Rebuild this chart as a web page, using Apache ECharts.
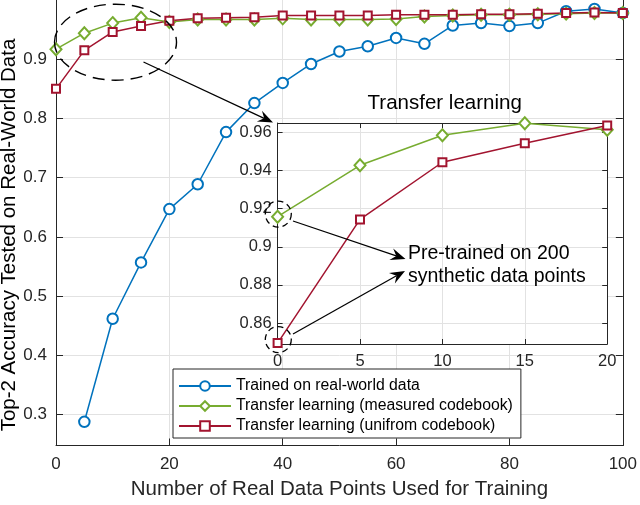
<!DOCTYPE html>
<html>
<head>
<meta charset="utf-8">
<script src="https://cdn.jsdelivr.net/npm/echarts@6/dist/echarts.min.js"></script>
<style>
html, body { margin: 0; padding: 0; background: #fff; }
#chart { width: 640px; height: 505px; }
</style>
</head>
<body>
<div id="chart"></div>
<script>
var pointsUsed = [0, 5, 10, 15, 20, 25, 30, 35, 40, 45, 50, 55, 60, 65, 70, 75, 80, 85, 90, 95, 100];
var trainedReal = [null, 0.288, 0.462, 0.557, 0.647, 0.689, 0.777, 0.826, 0.860, 0.892, 0.913, 0.922, 0.936, 0.926, 0.957, 0.961, 0.956, 0.961, 0.981, 0.985, 0.978];
var transferMeasured = [0.917, 0.944, 0.961, 0.970, 0.963, 0.967, 0.967, 0.967, 0.969, 0.967, 0.967, 0.967, 0.968, 0.972, 0.974, 0.975, 0.975, 0.976, 0.977, 0.978, 0.978];
var transferUniform = [0.850, 0.915, 0.946, 0.956, 0.965, 0.969, 0.970, 0.971, 0.974, 0.974, 0.974, 0.974, 0.975, 0.975, 0.975, 0.976, 0.976, 0.977, 0.978, 0.979, 0.978];

var insetPoints = [0, 5, 10, 15, 20];
var insetMeasured = [0.9158, 0.9428, 0.9586, 0.9649, 0.9614];
var insetUniform = [0.8495, 0.9144, 0.9444, 0.9544, 0.9637];

var mainYTicks = [0.3, 0.4, 0.5, 0.6, 0.7, 0.8, 0.9];
var insetYTicks = [0.86, 0.88, 0.9, 0.92, 0.94, 0.96];

var seriesNames = ['Trained on real-world data', 'Transfer learning (measured codebook)', 'Transfer learning (unifrom codebook)'];
var colors = ['#0072BD', '#77AC30', '#A2142F'];

var font = 'Liberation Sans, Arial, sans-serif';
var axisColor = '#262626';
var gridColor = '#e2e2e2';

function pairs(xs, ys) {
    var out = [];
    for (var i = 0; i < xs.length; i++) {
        if (ys[i] != null) out.push([xs[i], ys[i]]);
    }
    return out;
}

function valueAxis(o) {
    var ticks = o.ticks;
    var ax = {
        type: 'value',
        gridIndex: o.grid,
        position: o.position,
        min: o.min,
        max: o.max,
        z: o.z || 0,
        axisLine: { show: true, onZero: false, lineStyle: { color: axisColor, width: 1 } },
        axisTick: { show: true, inside: true, length: o.tickLen, lineStyle: { color: axisColor } },
        axisLabel: {
            show: !!o.labels,
            margin: o.margin,
            fontSize: o.fontSize,
            fontFamily: font,
            color: axisColor
        },
        splitLine: { show: !!o.split, lineStyle: { color: gridColor, width: 1 } }
    };
    if (o.interval) ax.interval = o.interval;
    if (ticks) {
        ax.axisTick.customValues = ticks;
        ax.axisLabel.customValues = ticks;
    }
    return ax;
}

var myChart = echarts.init(document.getElementById('chart'));

var symbols = ['emptyCircle', 'emptyDiamond', 'emptyRect'];
var symbolSizes = [10.5, [11, 12], 8];
var mainData = [trainedReal, transferMeasured, transferUniform];
var insetData = [null, insetMeasured, insetUniform];

var series = [];
for (var i = 0; i < 3; i++) {
    series.push({
        name: seriesNames[i],
        type: 'line',
        xAxisIndex: 0,
        yAxisIndex: 0,
        data: pairs(pointsUsed, mainData[i]),
        symbol: symbols[i],
        symbolSize: symbolSizes[i],
        showAllSymbol: true,
        clip: false,
        z: 2,
        lineStyle: { color: colors[i], width: 1.5 },
        itemStyle: { color: colors[i], borderWidth: 1.5 },
        emphasis: { disabled: true }
    });
}
for (var j = 1; j < 3; j++) {
    series.push({
        name: seriesNames[j],
        type: 'line',
        xAxisIndex: 1,
        yAxisIndex: 2,
        data: pairs(insetPoints, insetData[j]),
        symbol: symbols[j],
        symbolSize: symbolSizes[j],
        clip: false,
        z: 12,
        lineStyle: { color: colors[j], width: 1.5 },
        itemStyle: { color: colors[j], borderWidth: 1.5 },
        emphasis: { disabled: true }
    });
}

var option = {
    animation: false,
    backgroundColor: '#fff',
    grid: [
        { left: 56, right: 14.7, top: 0, bottom: 55.7 },
        { left: 277.6, top: 123, width: 329.6, height: 221, show: true, backgroundColor: '#fff', borderWidth: 0, z: 10 }
    ],
    xAxis: [
        Object.assign(valueAxis({ grid: 0, position: 'bottom', min: 0, max: 100, interval: 20, tickLen: 7, labels: true, margin: 10.5, fontSize: 17, split: true }), {
            name: 'Number of Real Data Points Used for Training',
            nameLocation: 'middle',
            nameGap: 33.5,
            nameTextStyle: { fontSize: 20.5, fontFamily: font, color: axisColor }
        }),
        valueAxis({ grid: 1, position: 'bottom', min: 0, max: 20, interval: 5, tickLen: 5, labels: true, margin: 8.5, fontSize: 16.5, split: true, z: 11 }),
        valueAxis({ grid: 1, position: 'top', min: 0, max: 20, interval: 5, tickLen: 5, labels: false, split: false, z: 11 })
    ],
    yAxis: [
        valueAxis({ grid: 0, position: 'left', min: 0.248, max: 1.0, ticks: mainYTicks, tickLen: 7, labels: true, margin: 9, fontSize: 17, split: true }),
        valueAxis({ grid: 0, position: 'right', min: 0.248, max: 1.0, ticks: mainYTicks, tickLen: 7, labels: false, split: false }),
        valueAxis({ grid: 1, position: 'left', min: 0.849, max: 0.965, ticks: insetYTicks, tickLen: 5, labels: true, margin: 6, fontSize: 16.5, split: true, z: 11 }),
        valueAxis({ grid: 1, position: 'right', min: 0.849, max: 0.965, ticks: insetYTicks, tickLen: 5, labels: false, split: false, z: 11 })
    ],
    legend: {
        data: seriesNames,
        orient: 'vertical',
        left: 173,
        top: 369,
        itemWidth: 52,
        itemHeight: 12,
        itemGap: 2,
        selectedMode: false,
        padding: [8, 8, 3, 5],
        backgroundColor: '#fff',
        borderColor: axisColor,
        borderWidth: 1,
        borderRadius: 0,
        z: 20,
        textStyle: { fontSize: 15.8, fontFamily: font, color: '#000', lineHeight: 18, padding: [0, 0, 0, 0] }
    },
    series: series
};

myChart.setOption(option);

// annotations
function arrow(x0, y0, x1, y1) {
    var dx = x1 - x0, dy = y1 - y0;
    var len = Math.sqrt(dx * dx + dy * dy);
    var ux = dx / len, uy = dy / len;
    var hl = 15, hw = 6;
    var bx = x1 - ux * hl, by = y1 - uy * hl;
    var nx = x1 - ux * hl * 0.65, ny = y1 - uy * hl * 0.65;
    return [
        { type: 'line', z: 50, shape: { x1: x0, y1: y0, x2: nx, y2: ny }, style: { stroke: '#000', lineWidth: 1.3 } },
        { type: 'polygon', z: 50, shape: { points: [[x1, y1], [bx - uy * hw, by + ux * hw], [nx, ny], [bx + uy * hw, by - ux * hw]] }, style: { fill: '#000' } }
    ];
}

function label(text, x, y, size, align, rot) {
    return {
        type: 'text', z: 50, x: x, y: y, rotation: rot || 0,
        style: {
            text: text, x: 0, y: 0, fill: '#000',
            fontSize: size, fontFamily: font,
            align: align, textAlign: align,
            verticalAlign: 'middle', textVerticalAlign: 'middle'
        }
    };
}

var ellC = myChart.convertToPixel({ xAxisIndex: 0, yAxisIndex: 0 }, [10.5, 0.9288]);
var gC = myChart.convertToPixel({ xAxisIndex: 1, yAxisIndex: 2 }, [insetPoints[0], insetMeasured[0]]);
var rC = myChart.convertToPixel({ xAxisIndex: 1, yAxisIndex: 2 }, [insetPoints[0], insetUniform[0]]);

var graphics = [
    { type: 'ellipse', z: 50, shape: { cx: ellC[0], cy: ellC[1], rx: 61, ry: 38 },
      style: { fill: null, stroke: '#000', lineWidth: 1.4, lineDash: [12, 7] } },
    { type: 'circle', z: 50, shape: { cx: gC[0] + 0.7, cy: gC[1] - 2.7, r: 13 },
      style: { fill: null, stroke: '#000', lineWidth: 1.3, lineDash: [6, 4] } },
    { type: 'circle', z: 50, shape: { cx: rC[0] + 0.7, cy: rC[1] - 3.5, r: 13 },
      style: { fill: null, stroke: '#000', lineWidth: 1.3, lineDash: [6, 4] } },
    label('Top-2 Accuracy Tested on Real-World Data', 9.5, 235, 20.5, 'center', Math.PI / 2),
    label('Transfer learning', 444.7, 103.5, 20.5, 'center'),
    label('Pre-trained on 200', 408, 254, 19.5, 'left'),
    label('synthetic data points', 408, 277, 19.5, 'left')
];
graphics = graphics
    .concat(arrow(143.5, 62, 273, 122.5))
    .concat(arrow(293, 221, 405.5, 259))
    .concat(arrow(293, 334, 405, 271));

myChart.setOption({ graphic: graphics });
</script>
</body>
</html>
